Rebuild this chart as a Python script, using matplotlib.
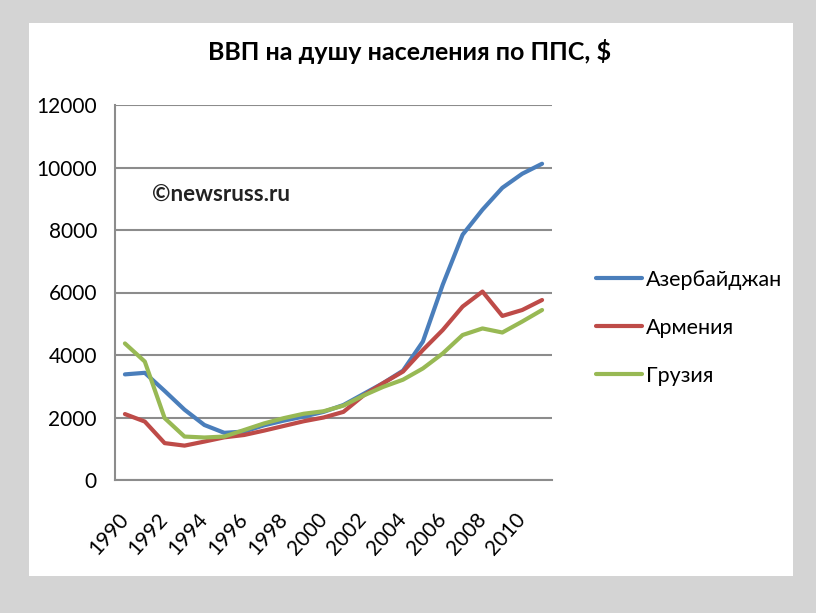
import matplotlib
matplotlib.use("Agg")
import matplotlib.pyplot as plt
from matplotlib.patches import Rectangle

years = list(range(1990, 2012))
azerbaijan = [3380, 3430, 2850, 2250, 1760, 1510, 1550, 1750, 1900, 2030, 2180, 2400, 2750, 3100, 3500,
              4430, 6250, 7850, 8650, 9350, 9800, 10120]
armenia = [2110, 1870, 1180, 1100, 1230, 1365, 1440, 1580, 1730, 1880, 2000, 2180, 2700, 3100, 3470,
           4160, 4800, 5550, 6030, 5250, 5440, 5760]
georgia = [4370, 3790, 1980, 1390, 1360, 1390, 1600, 1810, 1980, 2120, 2200, 2380, 2700, 2980, 3210,
           3570, 4050, 4640, 4850, 4720, 5070, 5440]
series_names = ["Азербайджан", "Армения", "Грузия"]
colors = ["#4A7EBB", "#BE4B48", "#98B954"]
yticks = [0, 2000, 4000, 6000, 8000, 10000, 12000]
title = "ВВП на душу населения по ППС, $"
watermark = "©newsruss.ru"

plt.rcParams['font.family'] = ['Lato', 'DejaVu Sans']

fig = plt.figure(figsize=(8.16, 6.13), dpi=100)
fig.patch.set_facecolor("#d4d4d4")
bg = Rectangle((29 / 816, 1 - 576 / 613), (793 - 29) / 816, (576 - 23) / 613,
               transform=fig.transFigure, facecolor="white", edgecolor="none", zorder=-10)
fig.patches.append(bg)

ax = fig.add_axes([115 / 816, 1 - 480 / 613, (552 - 115) / 816, (480 - 105) / 613])
ax.set_zorder(1)
ax.set_facecolor("none")
x = list(range(len(years)))
for vals, name, c in zip([azerbaijan, armenia, georgia], series_names, colors):
    ax.plot(x, vals, color=c, lw=3.0, label=name, solid_capstyle="round", solid_joinstyle="round", zorder=3)

ax.set_xlim(-0.5, len(years) - 0.5)
ax.set_ylim(0, 12000)
ax.set_yticks(yticks)
ax.set_yticklabels([str(v) for v in yticks], fontsize=15)
ax.yaxis.grid(True, color="#8c8c8c", lw=1.5)
ax.set_axisbelow(True)
ax.tick_params(axis="y", length=0, pad=13)
ax.set_xticks(x[::2])
ax.set_xticklabels([str(y) for y in years[::2]], fontsize=15, rotation=48, ha="right",
                   va="center", rotation_mode="anchor")
ax.tick_params(axis="x", length=0, pad=26)
for s in ["top", "right"]:
    ax.spines[s].set_visible(False)
for s in ["left", "bottom"]:
    ax.spines[s].set_color("#8c8c8c")
    ax.spines[s].set_linewidth(1.5)

fig.text(410 / 816, 1 - 51 / 613, title, ha="center", va="center", fontsize=18, fontweight="bold")
fig.text(152 / 816, 1 - 195 / 613, watermark, ha="left", va="center",
         fontsize=16, fontweight="bold", color="#222222")

leg = ax.legend(loc="center left", bbox_to_anchor=(577 / 816, 1 - 328 / 613),
                bbox_transform=fig.transFigure, frameon=False, fontsize=15.5,
                handlelength=2.1, handletextpad=0.2, labelspacing=1.3)

fig.savefig("out.png", dpi=100, facecolor=fig.get_facecolor())
